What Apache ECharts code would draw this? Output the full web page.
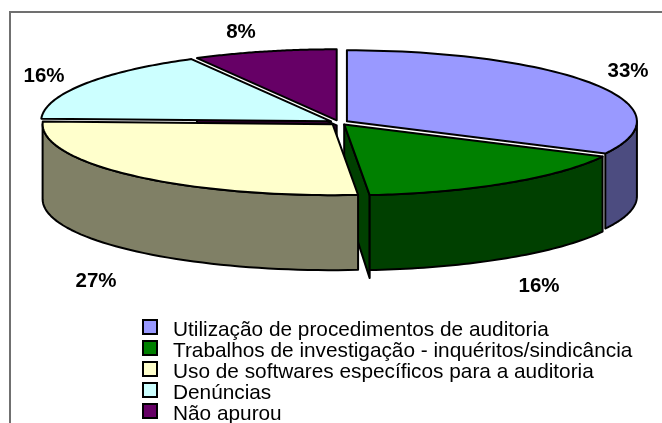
<!DOCTYPE html>
<html>
<head>
<meta charset="utf-8">
<style>
  html, body { margin: 0; padding: 0; background: #fff; }
  #chart { width: 662px; height: 423px; }
</style>
<script src="https://cdn.jsdelivr.net/npm/echarts@6/dist/echarts.min.js"></script>
</head>
<body>
<div id="chart"></div>
<script>
const categories = [
  'Utilização de procedimentos de auditoria',
  'Trabalhos de investigação - inquéritos/sindicância',
  'Uso de softwares específicos para a auditoria',
  'Denúncias',
  'Não apurou'
]
// estimated from the drawn angles, the labels are what the picture prints
const values = [32.5, 16.1, 27, 16.4, 8]
const pctLabels = ['33%', '16%', '27%', '16%', '8%']
const topColors = ['#9999FF', '#008000', '#FFFFCC', '#CCFFFF', '#660066']
const wallColors = ['#4C4C80', '#004000', '#808066', '#668080', '#330033']

const DEPTH = 75
const SPIKE = 8
const FACE_INSET = 5
const EXPLODE = 0.032
const CX = 339
const CY = 122.5
const RX = 290
const RY = 71

const total = values.reduce((a, b) => a + b, 0)
const starts = []
values.reduce((acc, v, i) => {
  starts[i] = acc
  return acc + v
}, 0)

const toAngle = (v) => (v / total) * Math.PI * 2

// walls that can be seen for each slice
const showOuterWall = [true, true, true, false, false]
const showEndFace = [false, true, false, false, false]
const showStartFace = [false, false, false, false, true]

const renderSlice = (i) => (params, api) => {
  const a0 = toAngle(starts[i])
  const a1 = toAngle(starts[i] + values[i])
  const mid = (a0 + a1) / 2
  const ox = EXPLODE * Math.sin(mid)
  const oy = EXPLODE * Math.cos(mid)
  const rim = (a) => api.coord([ox + Math.sin(a), oy + Math.cos(a)])
  const apex = api.coord([ox, oy])
  const down = (p) => [p[0], p[1] + DEPTH]
  const stroke = { stroke: '#000', lineWidth: 2, lineJoin: 'round' }
  const children = []

  const face = (pts, fill) => children.push({
    type: 'polygon',
    shape: { points: pts },
    style: { fill, ...stroke }
  })

  if (showStartFace[i]) {
    // pushed down a little so the white gap above the next slice stays white
    const p = rim(a0)
    face([
      [apex[0], apex[1] + FACE_INSET],
      [p[0], p[1] + FACE_INSET],
      down(p),
      down(apex)
    ], wallColors[i])
  }
  if (showEndFace[i]) {
    const p = rim(a1)
    const q = down(p)
    face([apex, p, [q[0], q[1] + SPIKE], down(apex)], wallColors[i])
  }
  if (showOuterWall[i]) {
    const from = Math.max(a0, Math.PI / 2)
    const to = Math.min(a1, Math.PI * 1.5)
    const top = []
    for (let k = 0; k <= 48; k++) top.push(rim(from + ((to - from) * k) / 48))
    face(top.concat(top.map(down).reverse()), wallColors[i])
  }

  const pts = [apex]
  for (let k = 0; k <= 64; k++) pts.push(rim(a0 + ((a1 - a0) * k) / 64))
  face(pts, topColors[i])

  return { type: 'group', children }
}

// purple first, yellow last: later slices hide the walls behind them
const drawOrder = [4, 0, 1, 3, 2]

const labelAt = [
  [628, 71],
  [539, 286],
  [96, 281],
  [44, 76],
  [241, 32]
]

const option = {
  animation: false,
  backgroundColor: '#fff',
  grid: { left: CX - RX, top: CY - RY, width: RX * 2, height: RY * 2 },
  xAxis: { type: 'value', min: -1, max: 1, show: false },
  yAxis: { type: 'value', min: -1, max: 1, show: false },
  legend: {
    orient: 'vertical',
    left: 137,
    top: 308,
    height: 140,
    itemWidth: 14,
    itemHeight: 14,
    itemGap: -7,
    icon: 'rect',
    data: categories,
    formatter: '{t|{name}}',
    textStyle: {
      rich: {
        t: {
          fontFamily: '"Liberation Sans", Arial, sans-serif',
          fontSize: 20.8,
          lineHeight: 14,
          color: '#000',
          // top padding sits the text a bit under the swatch centre, as in the source
          padding: [7, 0, 0, 11]
        }
      }
    }
  },
  graphic: [
    {
      type: 'rect',
      silent: true,
      shape: { x: 10, y: 12, width: 700, height: 450 },
      style: { fill: 'none', stroke: '#707070', lineWidth: 2 }
    },
    ...pctLabels.map((t, i) => ({
      type: 'text',
      silent: true,
      x: labelAt[i][0],
      y: labelAt[i][1],
      style: {
        text: t,
        fill: '#000',
        align: 'center',
        verticalAlign: 'middle',
        font: 'bold 20.5px "Liberation Sans", Arial, sans-serif'
      }
    }))
  ],
  series: drawOrder.map((i) => ({
    name: categories[i],
    type: 'custom',
    coordinateSystem: 'cartesian2d',
    clip: false,
    silent: true,
    itemStyle: { color: topColors[i], borderColor: '#000', borderWidth: 2 },
    data: [[0, 0]],
    renderItem: renderSlice(i)
  }))
}

const chart = echarts.init(document.getElementById('chart'), null, { renderer: 'canvas' })
chart.setOption(option)
</script>
</body>
</html>
